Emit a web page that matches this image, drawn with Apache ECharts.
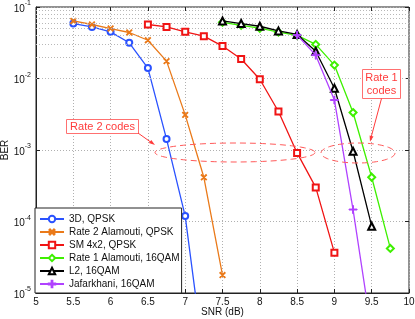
<!DOCTYPE html>
<html><head><meta charset="utf-8">
<script src="https://cdn.jsdelivr.net/npm/echarts@6/dist/echarts.min.js"></script>
<style>html,body{margin:0;padding:0;background:#fff}#c{width:415px;height:319px}</style>
</head><body><div id="c"></div>
<script>
const xTicks = [5,5.5,6,6.5,7,7.5,8,8.5,9,9.5,10];
const yTicks = [1e-5,1e-4,1e-3,1e-2,1e-1];
const names = ['3D, QPSK','Rate 2 Alamouti, QPSK','SM 4x2, QPSK','Rate 1 Alamouti, 16QAM','L2, 16QAM','Jafarkhani, 16QAM'];
const snr3D = [5.5,5.75,6,6.25,6.5,6.75,7,7.25];
const ber3D = [0.0587,0.0526,0.0449,0.0316,0.014,0.00142,0.000119,0.0000012];
const snrR2 = [5.5,5.75,6,6.25,6.5,6.75,7,7.25,7.5];
const berR2 = [0.0638,0.0569,0.050,0.044,0.0343,0.0175,0.0031,0.000415,0.0000178];
const snrSM = [6.5,6.75,7,7.25,7.5,7.75,8,8.25,8.5,8.75,9];
const berSM = [0.0569,0.0526,0.0449,0.0391,0.0284,0.0187,0.00975,0.00345,0.00091,0.0003,0.0000367];
const snrR1 = [7.5,7.75,8,8.25,8.5,8.75,9,9.25,9.5,9.75];
const berR1 = [0.061,0.0555,0.0505,0.0445,0.040,0.030,0.0154,0.00334,0.000416,0.000042];
const snrL2 = [7.5,7.75,8,8.25,8.5,8.75,9,9.25,9.5];
const berL2 = [0.0638,0.0587,0.0538,0.0463,0.0413,0.0241,0.0073,0.00096,0.000086];
const snrJF = [8.5,8.75,9,9.25,9.5];
const berJF = [0.0405,0.0212,0.005,0.000147,0.0000028];
const colors = ['#2a52ff','#ea7a1a','#f01414','#3ef000','#000000','#b042ff'];

const plus = 'path://M0,4.4 L10,4.4 L10,5.6 L0,5.6 Z M4.4,0 L5.6,0 L5.6,10 L4.4,10 Z';
const zip = (a,b)=>a.map((v,i)=>[v,b[i]]);
const minor = [];
for (let d=-5; d<=-2; d++) for (let m=2; m<=9; m++) minor.push({yAxis: m*Math.pow(10,d)});

const sets = [
  {x:snr3D,y:ber3D,sym:'emptyCircle',size:6,rot:0},
  {x:snrR2,y:berR2,sym:plus,size:7,rot:45},
  {x:snrSM,y:berSM,sym:'emptyRect',size:6,rot:0},
  {x:snrR1,y:berR1,sym:'emptyDiamond',size:7,rot:0},
  {x:snrL2,y:berL2,sym:'emptyTriangle',size:7,rot:0},
  {x:snrJF,y:berJF,sym:plus,size:8,rot:0}
];
const series = sets.map((s,i)=>({
  name:names[i], type:'line', data:zip(s.x,s.y), symbol:s.sym, symbolSize:s.size, symbolRotate:s.rot,
  clip:true, animation:false, z:3+i,
  lineStyle:{color:colors[i],width:1.3}, itemStyle:{color:colors[i],borderColor:colors[i],borderWidth:1},
  markLine: i===0 ? {silent:true, symbol:'none', label:{show:false}, animation:false,
    lineStyle:{color:'#b8b8b8',type:[1,2],width:1}, data:minor} : undefined
}));

function ellipsePts(cx,cy,rx,ry){const p=[];for(let k=0;k<72;k++){const t=k/72*2*Math.PI;p.push([cx+rx*Math.cos(t),cy+ry*Math.sin(t)]);}return p;}
const red='#ff3b3b';
const graphic = [
  {type:'polygon', shape:{points:ellipsePts(235,152.5,80,9.5)}, style:{fill:'none',stroke:'#ff5a5a',lineWidth:1,lineDash:[6,4]}, z:50},
  {type:'polygon', shape:{points:ellipsePts(358,153,37,10)}, style:{fill:'none',stroke:'#ff5a5a',lineWidth:1,lineDash:[6,4]}, z:50},
  {type:'rect', shape:{x:66.5,y:119.5,width:72,height:14}, style:{fill:'#fff',stroke:'#ff7070',lineWidth:1}, z:51},
  {type:'text', x:102.5, y:126.8, style:{text:'Rate 2 codes',fill:red,font:'11px "Liberation Sans", Arial',align:'center',verticalAlign:'middle'}, z:52},
  {type:'line', shape:{x1:138,y1:133,x2:152,y2:143}, style:{stroke:red,lineWidth:1}, z:51},
  {type:'polygon', shape:{points:[[155,145],[148.9,143.1],[151.3,139.9]]}, style:{fill:red}, z:51},
  {type:'rect', shape:{x:362.5,y:69.5,width:38,height:29}, style:{fill:'#fff',stroke:'#ff7070',lineWidth:1}, z:51},
  {type:'text', x:381.5, y:77.5, style:{text:'Rate 1',fill:red,font:'11px "Liberation Sans", Arial',align:'center',verticalAlign:'middle'}, z:52},
  {type:'text', x:381.5, y:90.5, style:{text:'codes',fill:red,font:'11px "Liberation Sans", Arial',align:'center',verticalAlign:'middle'}, z:52},
  {type:'line', shape:{x1:381.5,y1:98.5,x2:371.2,y2:137}, style:{stroke:red,lineWidth:1}, z:51},
  {type:'polygon', shape:{points:[[370,141.7],[373.5,136.4],[369.6,135.4]]}, style:{fill:red}, z:51}
];

const font = '"Liberation Sans", Arial, sans-serif';
const chart = echarts.init(document.getElementById('c'), null, {renderer:'canvas'});
chart.setOption({
  animation:false,
  backgroundColor:'#fff',
  textStyle:{fontFamily:font},
  grid:{left:36,right:6,top:7,bottom:26,containLabel:false,outerBoundsMode:'none',show:true,borderColor:'#222',borderWidth:1,backgroundColor:'#fff'},
  xAxis:[{type:'value',min:xTicks[0],max:xTicks[xTicks.length-1],interval:0.5,
    name:'SNR (dB)',nameLocation:'middle',nameGap:14,nameMoveOverlap:false,nameTextStyle:{fontSize:10,color:'#111',fontFamily:font},
    axisLine:{lineStyle:{color:'#222'}},axisTick:{inside:true,length:4,lineStyle:{color:'#222'}},
    axisLabel:{fontSize:10,color:'#111',margin:4,fontFamily:font,formatter:v=>String(v)},
    splitLine:{show:true,lineStyle:{color:'#b0b0b0',type:[1,2]}}},
   {type:'value',position:'top',min:5,max:10,interval:0.5,axisLine:{show:false},axisTick:{inside:true,length:4,lineStyle:{color:'#222'}},axisLabel:{show:false},splitLine:{show:false}}],
  yAxis:[{type:'log',logBase:10,min:yTicks[0],max:yTicks[yTicks.length-1],
    name:'BER',nameLocation:'middle',nameGap:26,nameMoveOverlap:false,nameTextStyle:{fontSize:10,color:'#111',fontFamily:font},
    axisLine:{lineStyle:{color:'#222'}},axisTick:{inside:true,length:4,lineStyle:{color:'#222'}},
    axisLabel:{color:'#111',margin:5,fontFamily:font,
      formatter:v=>'{b|10}{s|'+Math.round(Math.log10(v))+'}',
      rich:{b:{fontSize:10,fontFamily:font,color:'#111',padding:[4,0,0,0]},s:{fontSize:7,fontFamily:font,color:'#111',verticalAlign:'top',padding:[0,0,6,0]}}},
    splitLine:{show:true,lineStyle:{color:'#b0b0b0',type:[1,2]}}},
   {type:'log',logBase:10,position:'right',min:1e-5,max:1e-1,axisLine:{show:false},axisTick:{inside:true,length:4,lineStyle:{color:'#222'}},axisLabel:{show:false},splitLine:{show:false}}],
  legend:{orient:'vertical',left:35,top:208,itemWidth:24,itemHeight:8,itemGap:1,
    padding:[5,2,3,4],backgroundColor:'#fff',borderColor:'#222',borderWidth:1,
    textStyle:{fontSize:10,color:'#111',fontFamily:font,lineHeight:12},data:names},
  graphic:graphic,
  series:series
});
</script></body></html>
